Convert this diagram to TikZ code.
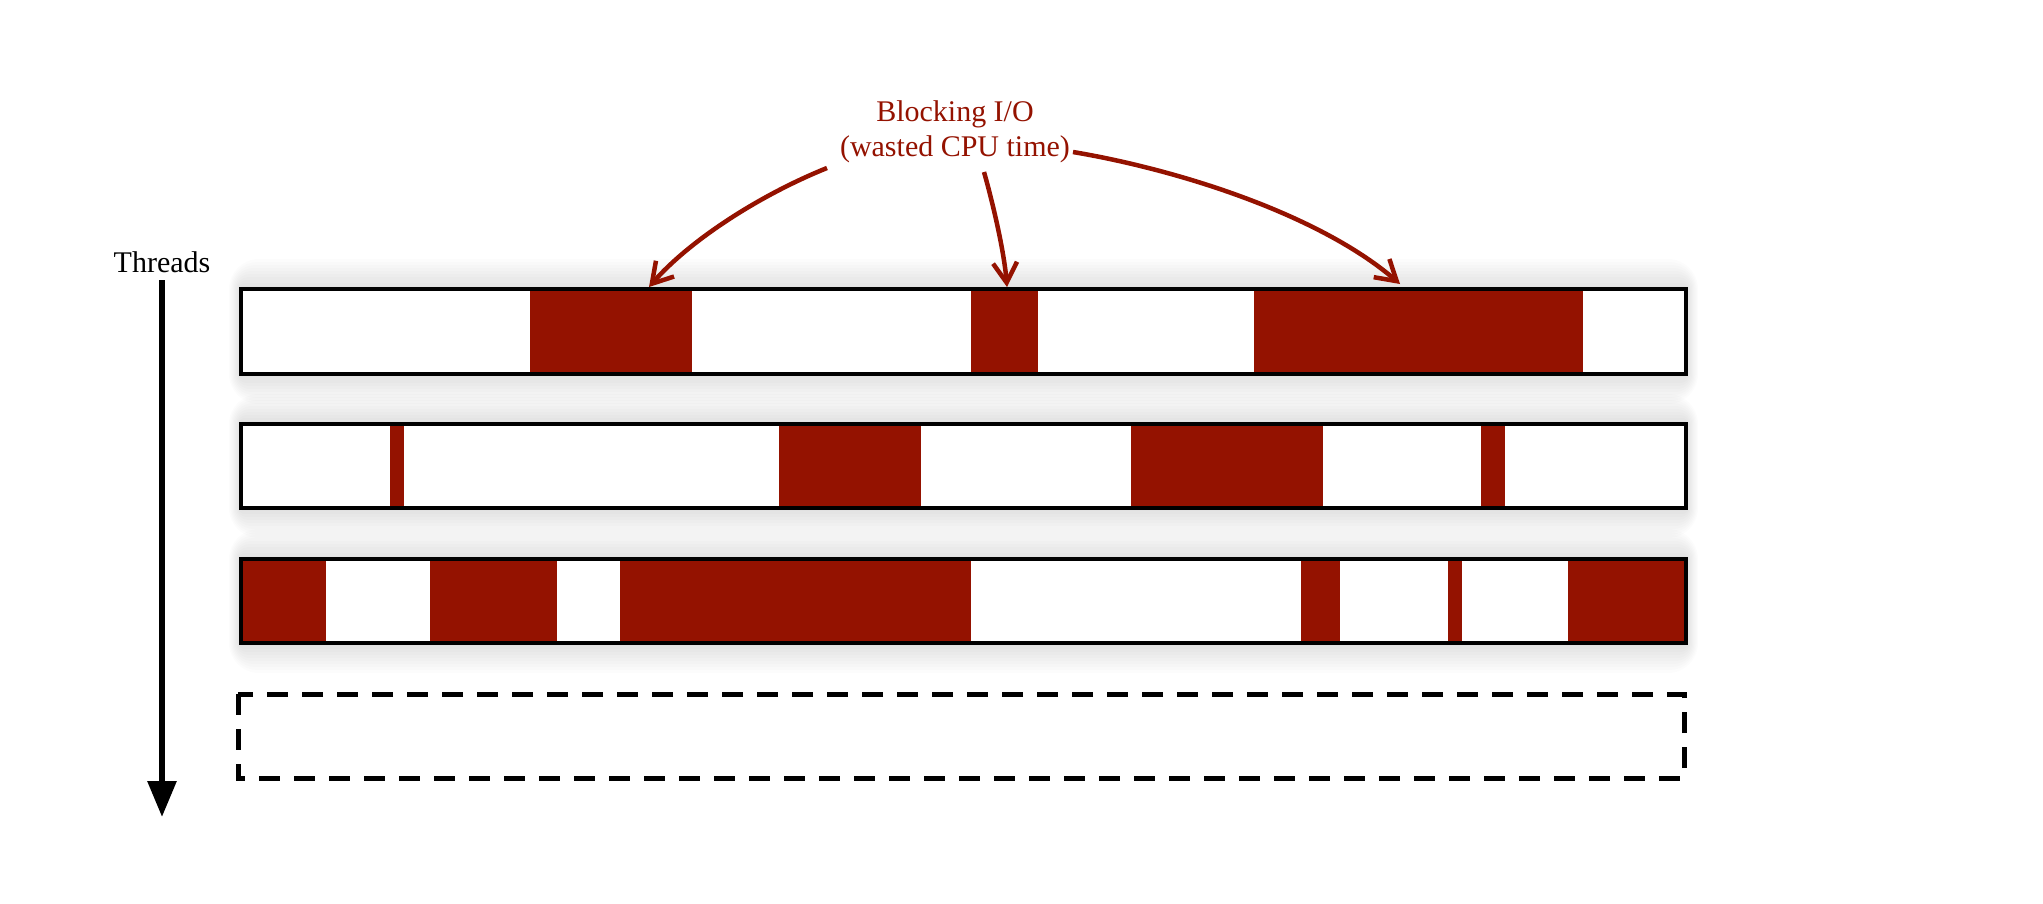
\documentclass[tikz,border=0pt]{standalone}
\usepackage{fontspec}
\setmainfont{Liberation Serif}
\usetikzlibrary{arrows.meta}
\definecolor{blockred}{RGB}{148,18,0}
\newcommand\barglow[4]{%
  \foreach \i in {1,...,10}{%
    \fill[black,opacity=0.012,rounded corners=3*\i pt]
      ({#1-1.2*\i},{#2-3*\i}) rectangle ({#3+1.2*\i},{#4+3*\i});
  }}
\tikzset{
  barline/.style={draw=black,line width=4.5pt},
  ioblock/.style={fill=blockred},
  dashbox/.style={draw=black,line width=5pt,dash pattern=on 21pt off 14pt},
  ioarrow/.style={draw=blockred,line width=4.5pt,-{Straight Barb[length=20pt,width=24pt]}},
  timearrow/.style={draw=black,line width=6pt,-{Triangle[length=36pt,width=28pt]}},
  lbl/.style={font=\fontsize{30}{35}\selectfont,inner sep=2pt}
}
\begin{document}
\begin{tikzpicture}[x=1pt,y=-1pt]
\useasboundingbox (0,0) rectangle (2043,903);
\fill[white] (0,0) rectangle (2043,903);
% glows
\barglow{241}{289}{1686}{374}
\barglow{241}{424}{1686}{508}
\barglow{241}{559}{1686}{643}
% bar 1
\fill[white] (241,289) rectangle (1686,374);
\foreach \a/\b in {530/692,971/1038,1254/1583}
  \fill[ioblock] (\a,289) rectangle (\b,374);
\draw[barline] (241,289) rectangle (1686,374);
% bar 2
\fill[white] (241,424) rectangle (1686,508);
\foreach \a/\b in {390/404,779/921,1131/1323,1481/1505}
  \fill[ioblock] (\a,424) rectangle (\b,508);
\draw[barline] (241,424) rectangle (1686,508);
% bar 3
\fill[white] (241,559) rectangle (1686,643);
\foreach \a/\b in {241/326,430/557,620/971,1301/1340,1448/1462,1568/1686}
  \fill[ioblock] (\a,559) rectangle (\b,643);
\draw[barline] (241,559) rectangle (1686,643);
% dashed future thread
\draw[dashbox] (238,694) rectangle (1684,778);
% threads axis
\node[lbl,anchor=base] (thr) at (162,272) {Threads};
\coordinate (ts) at (162,280);
\coordinate (te) at (162,817);
\draw[timearrow] (ts) -- (te);
% label
\node[lbl,align=center,text=blockred] (io) at (955,132) {Blocking I/O\\(wasted CPU time)};
\coordinate (ls) at (827,168);
\coordinate (le) at (649,287);
\coordinate (ms) at (984,172);
\coordinate (me) at (1007,287);
\coordinate (rs) at (1073,152);
\coordinate (re) at (1400,284);
\draw[ioarrow] (ls) .. controls (760,195) and (690,240) .. (le);
\draw[ioarrow] (ms) .. controls (992,200) and (1004,250) .. (me);
\draw[ioarrow] (rs) .. controls (1180,170) and (1320,215) .. (re);
\end{tikzpicture}
\end{document}
